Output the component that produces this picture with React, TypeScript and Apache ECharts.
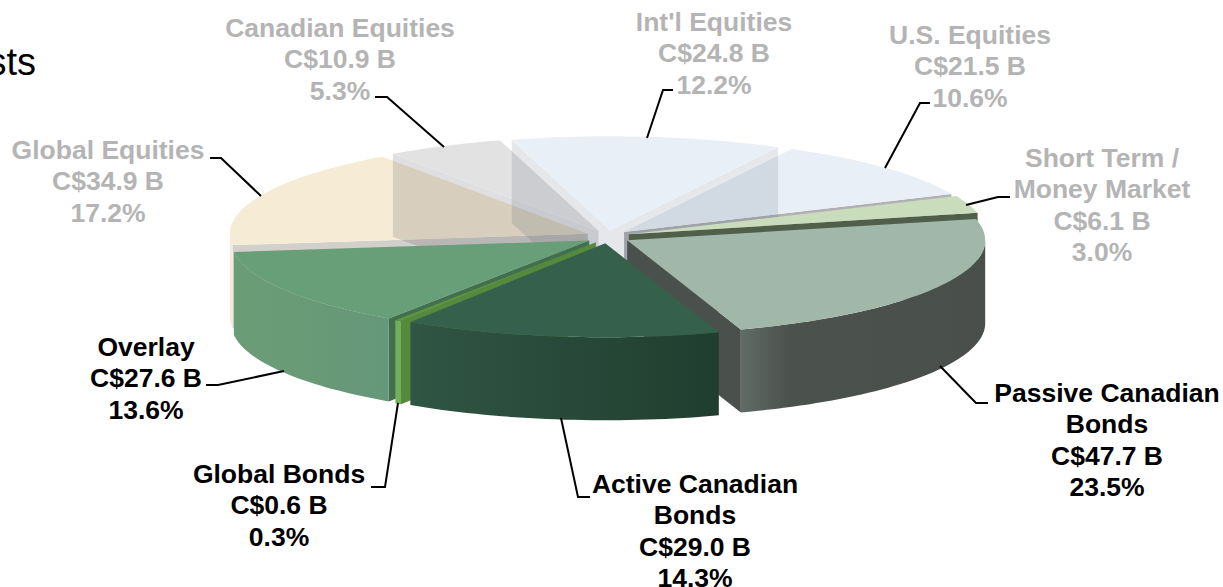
import React, { useEffect, useRef } from "react";
import * as echarts from "echarts";

const categories = ["Passive Canadian\nBonds", "Active Canadian\nBonds", "Global Bonds", "Overlay", "Global Equities", "Canadian Equities", "Int'l Equities", "U.S. Equities", "Short Term /\nMoney Market"];
const billions = [47.7, 29.0, 0.6, 27.6, 34.9, 10.9, 24.8, 21.5, 6.1];
const percents = [23.5, 14.3, 0.3, 13.6, 17.2, 5.3, 12.2, 10.6, 3.0];
const drawOrder = [4, 5, 7, 6, 8, 0, 3, 2, 1];

const topColors = ["#a0b7a9", "#35614c", "#5f9440", "#699f78", "#f6ecd6", "#e2e2e3", "#e9eff7", "#e9eff7", "#c9dcbb"];
const wallColors = ["#4a504b", "#2a4d3c", "#558a3c", "#41704f", "rgba(70,60,40,0.24)", "rgba(30,30,45,0.14)", "rgba(40,55,85,0.12)", "rgba(60,60,70,0.4)", "#4f5f49"];
const rimStops = [["#616c67", "#4b514c", "#4a4f4b"], ["#305644", "#2d5040", "#203e2f"], ["#74ad5e", "#74ad5e", "#74ad5e"], ["#6a9c76", "#6a9c76", "#65977a"], ["#f3ead7", "#f3ead7", "#f3ead7"], ["#ddd", "#ddd", "#ddd"], ["#ddd", "#ddd", "#ddd"], ["#ddd", "#ddd", "#ddd"], ["#ddd", "#ddd", "#ddd"]];
const labelColors = ["#000", "#000", "#000", "#000", "#b4b4b4", "#b4b4b4", "#b4b4b4", "#b4b4b4", "#b4b4b4"];
const labelCenters = [[1107, 377], [695, 468], [279, 458], [146, 331], [108, 134], [340, 12], [714, 6], [970, 19], [1102, 142]];
const leaders = [
  [[940, 366], [976, 403], [988, 403]],
  [[561, 418], [578, 497], [590, 497]],
  [[398, 403], [385, 487], [371, 487]],
  [[284, 371], [218, 385], [206, 385]],
  [[261, 196], [221, 158], [210, 158]],
  [[444, 147], [387, 97], [375, 97]],
  [[647, 138], [663, 90], [673, 90]],
  [[885, 168], [920, 103], [930, 103]],
  [[966, 205], [998, 197], [1010, 197]],
];

const CX = 608, CY = 236, RX = 358, RY = 94, DEPTH = 83, EXPLODE = 22, START = -13.1;
const rad = (d: number) => (d * Math.PI) / 180;

function sliceBounds(i: number) {
  const total = percents.reduce((a, b) => a + b, 0);
  const before = percents.slice(0, i).reduce((a, b) => a + b, 0);
  const a0 = START + (before / total) * 360;
  return [a0, a0 + (percents[i] / total) * 360];
}

function arc(ax: number, ay: number, a0: number, a1: number, dy = 0) {
  const pts: number[][] = [];
  const n = Math.max(2, Math.ceil(Math.abs(a1 - a0) / 1.5));
  for (let k = 0; k <= n; k++) {
    const t = rad(a0 + ((a1 - a0) * k) / n);
    pts.push([ax + RX * Math.cos(t), ay + RY * Math.sin(t) + dy]);
  }
  return pts;
}

function renderSlice(params: any) {
  const i = drawOrder[params.dataIndex];
  const [a0, a1] = sliceBounds(i);
  const mid = rad((a0 + a1) / 2);
  const ax = CX + EXPLODE * Math.cos(mid);
  const ay = CY + EXPLODE * (RY / RX) * Math.sin(mid) + (i <= 3 ? 1.5 : 0);
  const children: any[] = [];
  const wall = (a: number) => {
    const t = rad(a);
    const p = [ax + RX * Math.cos(t), ay + RY * Math.sin(t)];
    children.push({
      type: "polygon",
      shape: { points: [[ax, ay], p, [p[0], p[1] + DEPTH], [ax, ay + DEPTH]] },
      style: { fill: wallColors[i] },
    });
  };
  if (Math.cos(rad(a0)) < 0) wall(a0);
  if (Math.cos(rad(a1)) > 0) wall(a1);
  const r0 = Math.max(0, a0);
  const r1 = Math.min(180, a1);
  if (r1 > r0) {
    const top = arc(ax, ay, r0, r1);
    const bottom = arc(ax, ay, r1, r0, DEPTH);
    const s = rimStops[i];
    children.push({
      type: "polygon",
      shape: { points: top.concat(bottom) },
      style: {
        fill: new echarts.graphic.LinearGradient(0, 0, 1, 0, [
          { offset: 0, color: s[0] },
          { offset: 0.2, color: s[1] },
          { offset: 1, color: s[2] },
        ]),
      },
    });
  }
  children.push({
    type: "polygon",
    shape: { points: [[ax, ay]].concat(arc(ax, ay, a0, a1)) },
    style: { fill: topColors[i] },
  });
  return { type: "group", children };
}

export default function App() {
  const ref = useRef<HTMLDivElement>(null);
  useEffect(() => {
    const chart = echarts.init(ref.current!, undefined, { renderer: "svg" });
    const font = 'bold 26.5px "Liberation Sans", Arial, sans-serif';
    chart.setOption({
      animation: false,
      backgroundColor: "#fff",
      series: [
        {
          type: "custom",
          coordinateSystem: "none",
          renderItem: renderSlice,
          data: drawOrder.map((i) => percents[i]),
          silent: true,
        },
      ],
      graphic: [
        {
          type: "text",
          x: 36,
          y: 43,
          style: { text: "sts", fill: "#000", textAlign: "right", font: '38px "Liberation Sans", Arial, sans-serif' },
        },
        ...leaders.map((pts) => ({
          type: "polyline",
          shape: { points: pts },
          style: { stroke: "#000", lineWidth: 2, fill: "none" },
          z: 20,
        })),
        ...categories.map((c, i) => ({
          type: "text",
          x: labelCenters[i][0],
          y: labelCenters[i][1],
          z: 20,
          style: {
            text: `${c}\nC$${billions[i].toFixed(1)} B\n${percents[i].toFixed(1)}%`,
            fill: labelColors[i],
            font,
            lineHeight: 31.5,
            textAlign: "center",
            textVerticalAlign: "top",
          },
        })),
      ],
    });
    return () => chart.dispose();
  }, []);
  return <div ref={ref} style={{ position: "absolute", left: 0, top: 0, width: 1223, height: 587 }} />;
}
